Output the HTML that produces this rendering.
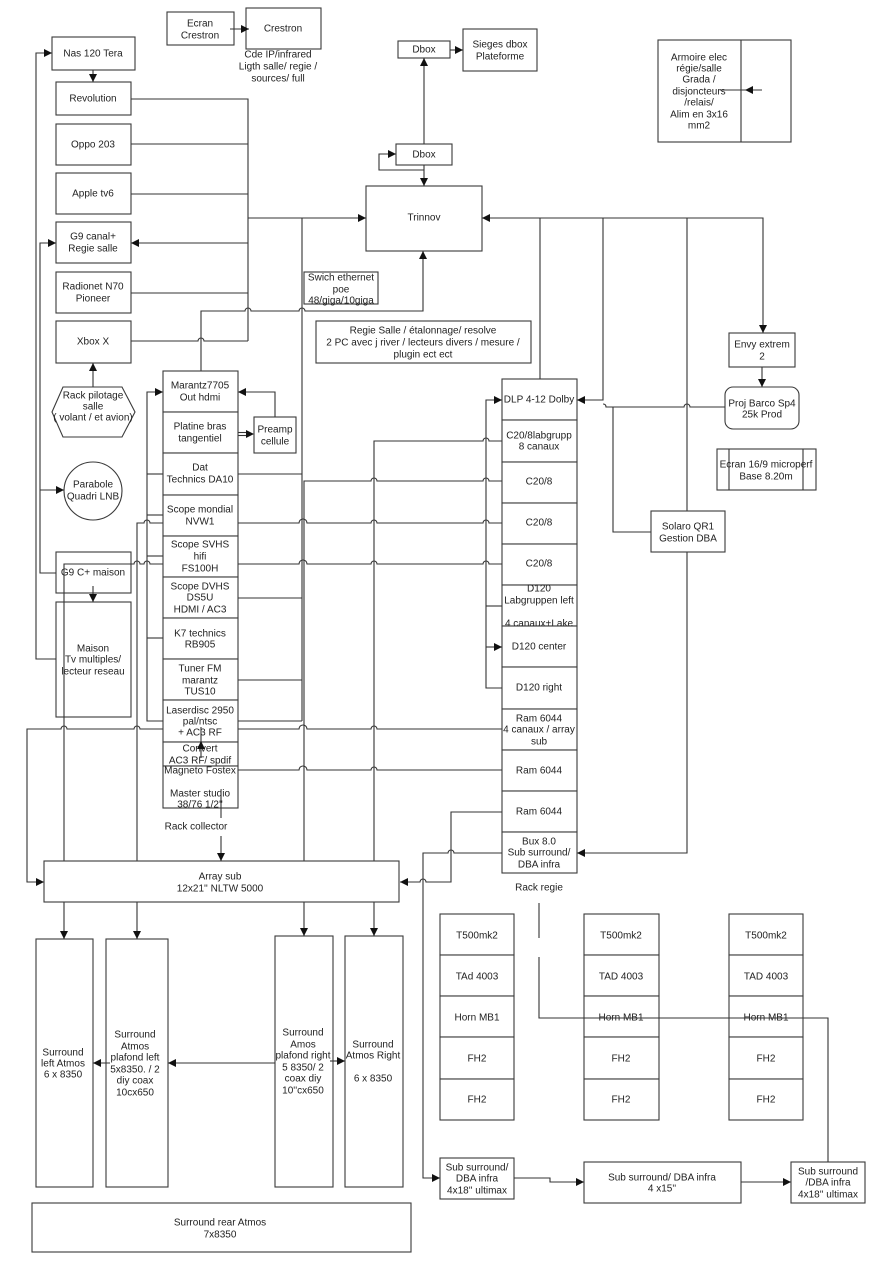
<!DOCTYPE html>
<html>
<head>
<meta charset="utf-8">
<style>
html,body{margin:0;padding:0;background:#fff;}
svg{display:block;}
text{font-family:"Liberation Sans",Arial,sans-serif;font-size:10px;fill:#222;text-anchor:middle;dominant-baseline:central;}
.b{fill:#fff;stroke:#3a3a3a;stroke-width:1.1;}
.l{fill:none;stroke:#333;stroke-width:1.1;}
</style>
</head>
<body>
<svg width="892" height="1280" viewBox="0 0 892 1280" xmlns="http://www.w3.org/2000/svg">
<defs>
<marker id="ar" viewBox="0 0 10 10" refX="10" refY="5" markerWidth="8" markerHeight="8" markerUnits="userSpaceOnUse" orient="auto-start-reverse">
<path d="M0,0L10,5L0,10z" fill="#111"/>
</marker>
</defs>
<rect x="0" y="0" width="892" height="1280" fill="#fff"/>

<!-- ===== Base boxes ===== -->
<rect class="b" x="167" y="12" width="67" height="33"/>
<text x="200" y="24">Ecran</text><text x="200" y="36">Crestron</text>
<rect class="b" x="246" y="8" width="75" height="41"/>
<text x="283" y="29">Crestron</text>
<text x="278" y="55">Cde IP/infrared</text>
<text x="278" y="67">Ligth salle/ regie /</text>
<text x="278" y="79">sources/ full</text>

<rect class="b" x="52" y="37" width="83" height="33"/>
<text x="93" y="54">Nas 120 Tera</text>
<rect class="b" x="56" y="82" width="75" height="33"/>
<text x="93" y="99">Revolution</text>
<rect class="b" x="56" y="124" width="75" height="41"/>
<text x="93" y="145">Oppo 203</text>
<rect class="b" x="56" y="173" width="75" height="41"/>
<text x="93" y="194">Apple tv6</text>
<rect class="b" x="56" y="222" width="75" height="41"/>
<text x="93" y="237">G9 canal+</text><text x="93" y="249">Regie salle</text>
<rect class="b" x="56" y="272" width="75" height="41"/>
<text x="93" y="287">Radionet N70</text><text x="93" y="299">Pioneer</text>
<rect class="b" x="56" y="321" width="75" height="42"/>
<text x="93" y="342">Xbox X</text>

<polygon class="b" points="52,412 63,387 122,387 135,412 122,437 63,437"/>
<text x="93" y="396">Rack pilotage</text><text x="93" y="407">salle</text><text x="93" y="418">( volant / et avion)</text>

<circle class="b" cx="93" cy="491" r="29"/>
<text x="93" y="485">Parabole</text><text x="93" y="497">Quadri LNB</text>

<rect class="b" x="56" y="552" width="75" height="41"/>
<text x="93" y="573">G9 C+ maison</text>
<rect class="b" x="56" y="602" width="75" height="115"/>
<text x="93" y="649">Maison</text><text x="93" y="660">Tv multiples/</text><text x="93" y="672">lecteur reseau</text>

<rect class="b" x="304" y="272" width="74" height="32"/>
<text x="341" y="278">Swich ethernet</text><text x="341" y="290">poe</text><text x="341" y="301">48/giga/10giga</text>

<rect class="b" x="316" y="321" width="215" height="42"/>
<text x="423" y="331">Regie Salle / étalonnage/ resolve</text>
<text x="423" y="343">2 PC avec j river / lecteurs divers / mesure /</text>
<text x="423" y="355">plugin ect ect</text>

<rect class="b" x="366" y="186" width="116" height="65"/>
<text x="424" y="218">Trinnov</text>
<rect class="b" x="396" y="144" width="56" height="21"/>
<text x="424" y="155">Dbox</text>
<rect class="b" x="398" y="41" width="52" height="17"/>
<text x="424" y="50">Dbox</text>
<rect class="b" x="463" y="29" width="74" height="42"/>
<text x="500" y="45">Sieges dbox</text><text x="500" y="57">Plateforme</text>

<rect class="b" x="658" y="40" width="133" height="102"/>
<line class="l" x1="741" y1="40" x2="741" y2="142"/>
<text x="699" y="58">Armoire elec</text>
<text x="699" y="69">régie/salle</text>
<text x="699" y="80">Grada /</text>
<text x="699" y="92">disjoncteurs</text>
<text x="699" y="103">/relais/</text>
<text x="699" y="115">Alim en 3x16</text>
<text x="699" y="126">mm2</text>

<rect class="b" x="729" y="333" width="66" height="34"/>
<text x="762" y="345">Envy extrem</text><text x="762" y="357">2</text>
<rect class="b" x="725" y="387" width="74" height="42" rx="8" ry="8"/>
<text x="762" y="404">Proj Barco Sp4</text><text x="762" y="415">25k Prod</text>
<rect class="b" x="717" y="449" width="99" height="41"/>
<line class="l" x1="729" y1="449" x2="729" y2="490"/>
<line class="l" x1="803" y1="449" x2="803" y2="490"/>
<text x="766" y="465">Ecran 16/9 microperf</text><text x="766" y="477">Base 8.20m</text>

<rect class="b" x="254" y="417" width="42" height="36"/>
<text x="275" y="430">Preamp</text><text x="275" y="442">cellule</text>

<!-- Rack regie -->
<rect class="b" x="502" y="379" width="75" height="41"/><text x="539" y="400">DLP 4-12 Dolby</text>
<rect class="b" x="502" y="420" width="75" height="42"/><text x="539" y="436">C20/8labgrupp</text><text x="539" y="447">8 canaux</text>
<rect class="b" x="502" y="462" width="75" height="41"/><text x="539" y="482">C20/8</text>
<rect class="b" x="502" y="503" width="75" height="41"/><text x="539" y="523">C20/8</text>
<rect class="b" x="502" y="544" width="75" height="41"/><text x="539" y="564">C20/8</text>
<rect class="b" x="502" y="585" width="75" height="41"/><text x="539" y="589">D120</text><text x="539" y="601">Labgruppen left</text><text x="539" y="624">4 canaux+Lake</text>
<rect class="b" x="502" y="626" width="75" height="41"/><text x="539" y="647">D120 center</text>
<rect class="b" x="502" y="667" width="75" height="42"/><text x="539" y="688">D120 right</text>
<rect class="b" x="502" y="709" width="75" height="41"/><text x="539" y="719">Ram 6044</text><text x="539" y="730">4 canaux / array</text><text x="539" y="742">sub</text>
<rect class="b" x="502" y="750" width="75" height="41"/><text x="539" y="771">Ram 6044</text>
<rect class="b" x="502" y="791" width="75" height="41"/><text x="539" y="812">Ram 6044</text>
<rect class="b" x="502" y="832" width="75" height="41"/><text x="539" y="842">Bux 8.0</text><text x="539" y="853">Sub surround/</text><text x="539" y="865">DBA infra</text>
<text x="539" y="888">Rack regie</text>

<!-- Surround -->
<rect class="b" x="36" y="939" width="57" height="248"/>
<text x="63" y="1053">Surround</text><text x="63" y="1064">left Atmos</text><text x="63" y="1075">6 x 8350</text>
<rect class="b" x="106" y="939" width="62" height="248"/>
<text x="135" y="1035">Surround</text><text x="135" y="1047">Atmos</text><text x="135" y="1058">plafond left</text><text x="135" y="1070">5x8350. / 2</text><text x="135" y="1081">diy coax</text><text x="135" y="1093">10cx650</text>
<rect class="b" x="275" y="936" width="58" height="251"/>
<text x="303" y="1033">Surround</text><text x="303" y="1045">Amos</text><text x="303" y="1056">plafond right</text><text x="303" y="1068">5 8350/ 2</text><text x="303" y="1079">coax diy</text><text x="303" y="1091">10''cx650</text>
<rect class="b" x="345" y="936" width="58" height="251"/>
<text x="373" y="1045">Surround</text><text x="373" y="1056">Atmos Right</text><text x="373" y="1079">6 x 8350</text>
<rect class="b" x="32" y="1203" width="379" height="49"/>
<text x="220" y="1223">Surround rear Atmos</text><text x="220" y="1235">7x8350</text>

<!-- T500 columns -->
<g>
<rect class="b" x="440" y="914" width="74" height="41"/><text x="477" y="936">T500mk2</text>
<rect class="b" x="440" y="955" width="74" height="41"/><text x="477" y="977">TAd 4003</text>
<rect class="b" x="440" y="996" width="74" height="41"/><text x="477" y="1018">Horn MB1</text>
<rect class="b" x="440" y="1037" width="74" height="42"/><text x="477" y="1059">FH2</text>
<rect class="b" x="440" y="1079" width="74" height="41"/><text x="477" y="1100">FH2</text>

<rect class="b" x="584" y="914" width="75" height="41"/><text x="621" y="936">T500mk2</text>
<rect class="b" x="584" y="955" width="75" height="41"/><text x="621" y="977">TAD 4003</text>
<rect class="b" x="584" y="996" width="75" height="41"/><text x="621" y="1018">Horn MB1</text>
<rect class="b" x="584" y="1037" width="75" height="42"/><text x="621" y="1059">FH2</text>
<rect class="b" x="584" y="1079" width="75" height="41"/><text x="621" y="1100">FH2</text>

<rect class="b" x="729" y="914" width="74" height="41"/><text x="766" y="936">T500mk2</text>
<rect class="b" x="729" y="955" width="74" height="41"/><text x="766" y="977">TAD 4003</text>
<rect class="b" x="729" y="996" width="74" height="41"/><text x="766" y="1018">Horn MB1</text>
<rect class="b" x="729" y="1037" width="74" height="42"/><text x="766" y="1059">FH2</text>
<rect class="b" x="729" y="1079" width="74" height="41"/><text x="766" y="1100">FH2</text>
</g>

<rect class="b" x="440" y="1158" width="74" height="41"/>
<text x="477" y="1168">Sub surround/</text><text x="477" y="1179">DBA infra</text><text x="477" y="1191">4x18'' ultimax</text>
<rect class="b" x="584" y="1162" width="157" height="41"/>
<text x="662" y="1178">Sub surround/ DBA infra</text><text x="662" y="1189">4 x15''</text>
<rect class="b" x="791" y="1162" width="74" height="41"/>
<text x="828" y="1172">Sub surround</text><text x="828" y="1183">/DBA infra</text><text x="828" y="1195">4x18'' ultimax</text>

<!-- ===== Connectors ===== -->
<g class="l">
<path d="M230,29 H249" marker-end="url(#ar)"/>
<path d="M93,70 V82" marker-end="url(#ar)"/>
<path d="M56,659 H36 V53 H52" marker-end="url(#ar)"/>
<path d="M56,573 H40 V243 H56" marker-end="url(#ar)"/>
<path d="M40,490 H64" marker-end="url(#ar)"/>
<path d="M131,99 H248 V341"/>
<path d="M131,144 H248"/>
<path d="M131,194 H248"/>
<path d="M131,293 H248"/>
<path d="M131,341 H198 a3,3 0 0 1 6,0 H248"/>
<path d="M131,243 H248" marker-start="url(#ar)"/>
<path d="M248,218 H366" marker-end="url(#ar)"/>
<path d="M302,218 V721"/>
<path d="M201,371 V311 H245 a3,3 0 0 1 6,0 H299 a3,3 0 0 1 6,0 H423 V251" marker-end="url(#ar)"/>
<path d="M424,165 V186" marker-end="url(#ar)"/>
<path d="M424,170 H379 V154 H396" marker-end="url(#ar)"/>
<path d="M424,144 V58" marker-end="url(#ar)"/>
<path d="M450,50 H463" marker-end="url(#ar)"/>
<path d="M482,218 H763 V333" marker-start="url(#ar)" marker-end="url(#ar)"/>
<path d="M540,218 V379"/>
<path d="M603,218 V400 H577" marker-end="url(#ar)"/>
<path d="M687,218 V853 H577" marker-end="url(#ar)"/>
<path d="M603,404 Q606,404 606,407 H684 a3,3 0 0 1 6,0 H725"/>
<path d="M613,407 V532 H651"/>
<path d="M762,367 V387" marker-end="url(#ar)"/>
<path d="M720,90 H762"/>

<path d="M302,721 H147 V392 H163" marker-end="url(#ar)"/>
<path d="M147,474 H163"/>
<path d="M147,515 H163"/>
<path d="M147,556 H163"/>
<path d="M147,638 H163"/>
<path d="M238,474 H302"/>
<path d="M238,598 H302"/>
<path d="M238,680 H302"/>
<path d="M275,417 V392 H238" marker-end="url(#ar)"/>
<path d="M238,432.5 H247"/>
<path d="M238,435.5 H247"/>

<path d="M137,939 V523 H144 a3,3 0 0 1 6,0 H299 a4,4 0 0 1 8,0 H371 a3,3 0 0 1 6,0 H483 a3,3 0 0 1 6,0 H502" marker-start="url(#ar)"/>
<path d="M64,939 V564 H134 a3,3 0 0 1 6,0 H144 a3,3 0 0 1 6,0 H299 a4,4 0 0 1 8,0 H371 a3,3 0 0 1 6,0 H483 a3,3 0 0 1 6,0 H502" marker-start="url(#ar)"/>
<path d="M304,936 V481 H371 a3,3 0 0 1 6,0 H483 a3,3 0 0 1 6,0 H502" marker-start="url(#ar)"/>
<path d="M374,936 V441 H483 a3,3 0 0 1 6,0 H502" marker-start="url(#ar)"/>
<path d="M44,882 H27 V729 H61 a3,3 0 0 1 6,0 H134 a3,3 0 0 1 6,0 H299 a4,4 0 0 1 8,0 H371 a3,3 0 0 1 6,0 H502" marker-start="url(#ar)"/>
<path d="M238,770 H299 a4,4 0 0 1 8,0 H371 a3,3 0 0 1 6,0 H502"/>

<path d="M502,688 H486 V400 H502" marker-end="url(#ar)"/>
<path d="M486,606 H502"/>
<path d="M486,647 H502" marker-end="url(#ar)"/>
<path d="M400,882 H420 a3,3 0 0 1 6,0 H451 V812 H502" marker-start="url(#ar)"/>
<path d="M440,1178 H423 V853 H448 a3,3 0 0 1 6,0 H502" marker-start="url(#ar)"/>

<path d="M93,387 V363" marker-end="url(#ar)"/>
<path d="M93,586 V602" marker-end="url(#ar)"/>

<path d="M110,1063 H93" marker-end="url(#ar)"/>
<path d="M275,1063 H168" marker-end="url(#ar)"/>
<path d="M330,1061 H345" marker-end="url(#ar)"/>

<path d="M514,1178 H550 V1182 H584" marker-end="url(#ar)"/>
<path d="M741,1182 H791" marker-end="url(#ar)"/>
<path d="M539,903 V938"/>
<path d="M539,957 V1018 H828 V1162"/>
</g>
<polygon points="745,90 753,86 753,94" fill="#111"/>
<polygon points="254,434 246,430 246,438" fill="#111"/>

<!-- ===== Boxes on top of lines ===== -->
<rect class="b" x="651" y="511" width="74" height="41"/>
<text x="688" y="527">Solaro QR1</text><text x="688" y="539">Gestion DBA</text>

<rect class="b" x="44" y="861" width="355" height="41"/>
<text x="220" y="877">Array sub</text><text x="220" y="889">12x21'' NLTW 5000</text>

<!-- Marantz rack -->
<rect class="b" x="163" y="371" width="75" height="41"/><text x="200" y="386">Marantz7705</text><text x="200" y="398">Out hdmi</text>
<rect class="b" x="163" y="412" width="75" height="41"/><text x="200" y="427">Platine bras</text><text x="200" y="439">tangentiel</text>
<rect class="b" x="163" y="453" width="75" height="42"/><text x="200" y="468">Dat</text><text x="200" y="480">Technics DA10</text>
<rect class="b" x="163" y="495" width="75" height="41"/><text x="200" y="510">Scope mondial</text><text x="200" y="522">NVW1</text>
<rect class="b" x="163" y="536" width="75" height="41"/><text x="200" y="545">Scope SVHS</text><text x="200" y="557">hifi</text><text x="200" y="569">FS100H</text>
<rect class="b" x="163" y="577" width="75" height="41"/><text x="200" y="587">Scope DVHS</text><text x="200" y="598">DS5U</text><text x="200" y="610">HDMI / AC3</text>
<rect class="b" x="163" y="618" width="75" height="41"/><text x="200" y="634">K7 technics</text><text x="200" y="645">RB905</text>
<rect class="b" x="163" y="659" width="75" height="41"/><text x="200" y="669">Tuner FM</text><text x="200" y="681">marantz</text><text x="200" y="692">TUS10</text>
<rect class="b" x="163" y="700" width="75" height="42"/><text x="200" y="711">Laserdisc 2950</text><text x="200" y="722">pal/ntsc</text><text x="200" y="733">+ AC3 RF</text>
<rect class="b" x="163" y="742" width="75" height="24"/><text x="200" y="749">Convert</text><text x="200" y="761">AC3 RF/ spdif</text>
<rect class="b" x="163" y="766" width="75" height="42"/><text x="200" y="771">Magneto Fostex</text><text x="200" y="794">Master studio</text><text x="200" y="805">38/76 1/2''</text>
<text x="196" y="827">Rack collector</text>

<g class="l">
<path d="M221,790 V818"/>
<path d="M221,836 V861" marker-end="url(#ar)"/>
<path d="M201,727 V758"/>
</g>
<polygon points="201,741 197,749 205,749" fill="#111"/>
</svg>
</body>
</html>
